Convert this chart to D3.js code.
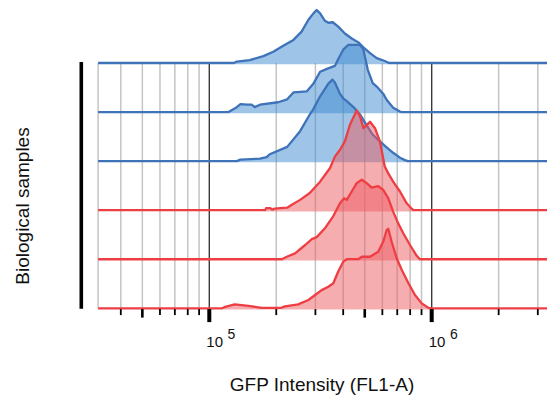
<!DOCTYPE html>
<html>
<head>
<meta charset="utf-8">
<script src="https://cdn.jsdelivr.net/npm/d3@7"></script>
<style>
  html, body { margin: 0; padding: 0; background: #fff; }
  svg { display: block; }
  text { font-family: "Liberation Sans", Arial, Helvetica, sans-serif; fill: #111; }
</style>
</head>
<body>
<svg id="chart" width="547" height="402"></svg>
<script>
// GFP histograms per biological sample: [GFP intensity, events]
const sample1 = [[129000,0],[133000,3],[152000,6],[175000,14],[194000,23],[215000,35],[239000,47],[260000,64],[279000,88],[294000,101],[304000,108],[315000,101],[331000,86],[343000,82],[359000,83],[380000,74],[407000,60],[437000,50],[468000,42],[490000,33],[528000,20],[566000,10],[615000,4],[643000,0]];
const sample2 = [[122000,0],[133000,10],[138000,16],[148000,15],[155000,15],[160000,10],[169000,15],[204000,20],[224000,26],[239000,40],[274000,42],[293000,57],[315000,82],[338000,88],[367000,94],[380000,108],[400000,127],[422000,137],[476000,137],[493000,127],[516000,86],[543000,59],[566000,52],[606000,37],[627000,25],[671000,9],[720000,1],[733000,0]];
const sample3 = [[133000,0],[138000,3],[169000,5],[181000,8],[187000,14],[224000,29],[256000,61],[283000,95],[293000,105],[315000,132],[329000,145],[343000,158],[358000,166],[367000,160],[387000,137],[400000,128],[415000,122],[445000,110],[476000,95],[510000,73],[543000,54],[585000,40],[627000,28],[671000,17],[720000,7],[758000,2],[782000,0]];
const sample4 = [[178000,0],[180000,4],[188000,4],[192000,1],[196000,3],[224000,5],[235000,11],[256000,21],[283000,35],[315000,58],[349000,86],[367000,109],[387000,123],[407000,140],[429000,174],[460000,203],[476000,191],[493000,167],[528000,180],[556000,167],[585000,140],[615000,89],[638000,75],[671000,58],[720000,38],[772000,14],[813000,3],[827000,0]];
const sample5 = [[212000,0],[223000,5],[243000,12],[270000,29],[289000,41],[304000,45],[331000,63],[361000,88],[387000,114],[403000,124],[415000,121],[437000,138],[460000,155],[485000,162],[510000,155],[537000,146],[575000,149],[606000,141],[638000,124],[671000,97],[707000,73],[745000,53],[799000,29],[856000,7],[885000,0]];
const sample6 = [[114000,0],[118000,3],[130000,8],[150000,5],[166000,2],[172000,1],[211000,1],[219000,4],[251000,8],[279000,17],[299000,27],[320000,37],[343000,44],[361000,51],[380000,75],[400000,95],[415000,100],[468000,100],[485000,105],[528000,105],[575000,115],[606000,136],[627000,159],[638000,162],[660000,136],[696000,102],[734000,78],[786000,51],[841000,27],[902000,10],[965000,1],[1000000,0]];

const samples = ["Sample 1", "Sample 2", "Sample 3", "Sample 4", "Sample 5", "Sample 6"];
const sampleData = [sample1, sample2, sample3, sample4, sample5, sample6];
const sampleGroup = ["A", "A", "A", "B", "B", "B"];

// Axis: visible GFP range, ticks and labelled decades
const gfpRange = [31623, 3400000];
const minorTicks = [40000, 50000, 60000, 70000, 80000, 90000,
                    200000, 300000, 400000, 500000, 600000, 700000, 800000, 900000,
                    2000000, 3000000];
const midTicks = [50000, 500000];
const decadeTicks = [100000, 1000000];
const decadeExponents = ["5", "6"];

const axisTitle = "GFP Intensity (FL1-A)";
const sampleTitle = "Biological samples";

const groupStroke = { A: "#3e72b9", B: "#ee3e43" };
const groupFill = { A: "rgba(61,138,208,0.5)", B: "rgba(238,92,98,0.5)" };

const svg = d3.select("#chart");

const x = d3.scaleLog().domain([1e5, 1e6]).range([209.3, 431.7]);
const y = d3.scalePoint().domain(samples).range([63, 308.3]);
const h = d3.scaleLinear().domain([0, 100]).range([0, 49.1]);

const gridTop = y(samples[0]);
const gridBottom = y(samples[samples.length - 1]);

// vertical grid
const grid = svg.append("g");
grid.selectAll("line.minor")
  .data([gfpRange[0]].concat(minorTicks))
  .join("line")
  .attr("x1", d => x(d)).attr("x2", d => x(d))
  .attr("y1", gridTop).attr("y2", gridBottom)
  .attr("stroke", "#c4c4c4").attr("stroke-width", 1.5);
grid.selectAll("line.decade")
  .data(decadeTicks)
  .join("line")
  .attr("x1", d => x(d)).attr("x2", d => x(d))
  .attr("y1", gridTop).attr("y2", gridBottom)
  .attr("stroke", "#3a3a3a").attr("stroke-width", 1.4);

// ridges, drawn top to bottom so lower ridges sit in front
samples.forEach((name, i) => {
  const base = y(name);
  const data = sampleData[i];
  const g = sampleGroup[i];
  const area = d3.area()
    .x(d => x(d[0]))
    .y0(base + 1.2)
    .y1(d => base - h(d[1]));
  const line = d3.line()
    .x(d => x(d[0]))
    .y(d => base - h(d[1]));
  const full = [[gfpRange[0], 0]].concat(data, [[gfpRange[1], 0]]);
  svg.append("path")
    .attr("d", area(data))
    .attr("fill", groupFill[g]);
  svg.append("path")
    .attr("d", line(full))
    .attr("fill", "none")
    .attr("stroke", groupStroke[g])
    .attr("stroke-width", 2.3)
    .attr("stroke-linejoin", "round");
});

// sample axis bar
svg.append("line")
  .attr("x1", 81.3).attr("x2", 81.3)
  .attr("y1", gridTop - 1).attr("y2", gridBottom + 0.5)
  .attr("stroke", "#000").attr("stroke-width", 3.6);

// x ticks
const tickTop = gridBottom + 0.8;
svg.selectAll("line.tick")
  .data(minorTicks.filter(d => midTicks.indexOf(d) < 0))
  .join("line")
  .attr("x1", d => x(d)).attr("x2", d => x(d))
  .attr("y1", tickTop).attr("y2", tickTop + 6)
  .attr("stroke", "#000").attr("stroke-width", 1.8);
svg.selectAll("line.mid")
  .data(midTicks)
  .join("line")
  .attr("x1", d => x(d)).attr("x2", d => x(d))
  .attr("y1", tickTop).attr("y2", tickTop + 8.5)
  .attr("stroke", "#000").attr("stroke-width", 2.6);
svg.selectAll("line.major")
  .data(decadeTicks)
  .join("line")
  .attr("x1", d => x(d)).attr("x2", d => x(d))
  .attr("y1", tickTop).attr("y2", tickTop + 13)
  .attr("stroke", "#000").attr("stroke-width", 4);

// decade labels: 10 with a raised exponent
const labels = svg.selectAll("text.decade")
  .data(decadeTicks)
  .join("text")
  .attr("x", d => x(d) - 3)
  .attr("y", 347.3)
  .attr("font-size", 15)
  .text("10");
labels.append("tspan")
  .attr("dx", 4.5)
  .attr("dy", -8.6)
  .attr("font-size", 14)
  .text((d, i) => decadeExponents[i]);

svg.append("text")
  .attr("x", 322)
  .attr("y", 390.5)
  .attr("text-anchor", "middle")
  .attr("font-size", 19)
  .text(axisTitle);

svg.append("text")
  .attr("transform", "translate(29,206) rotate(-90)")
  .attr("text-anchor", "middle")
  .attr("font-size", 19)
  .text(sampleTitle);
</script>
</body>
</html>
